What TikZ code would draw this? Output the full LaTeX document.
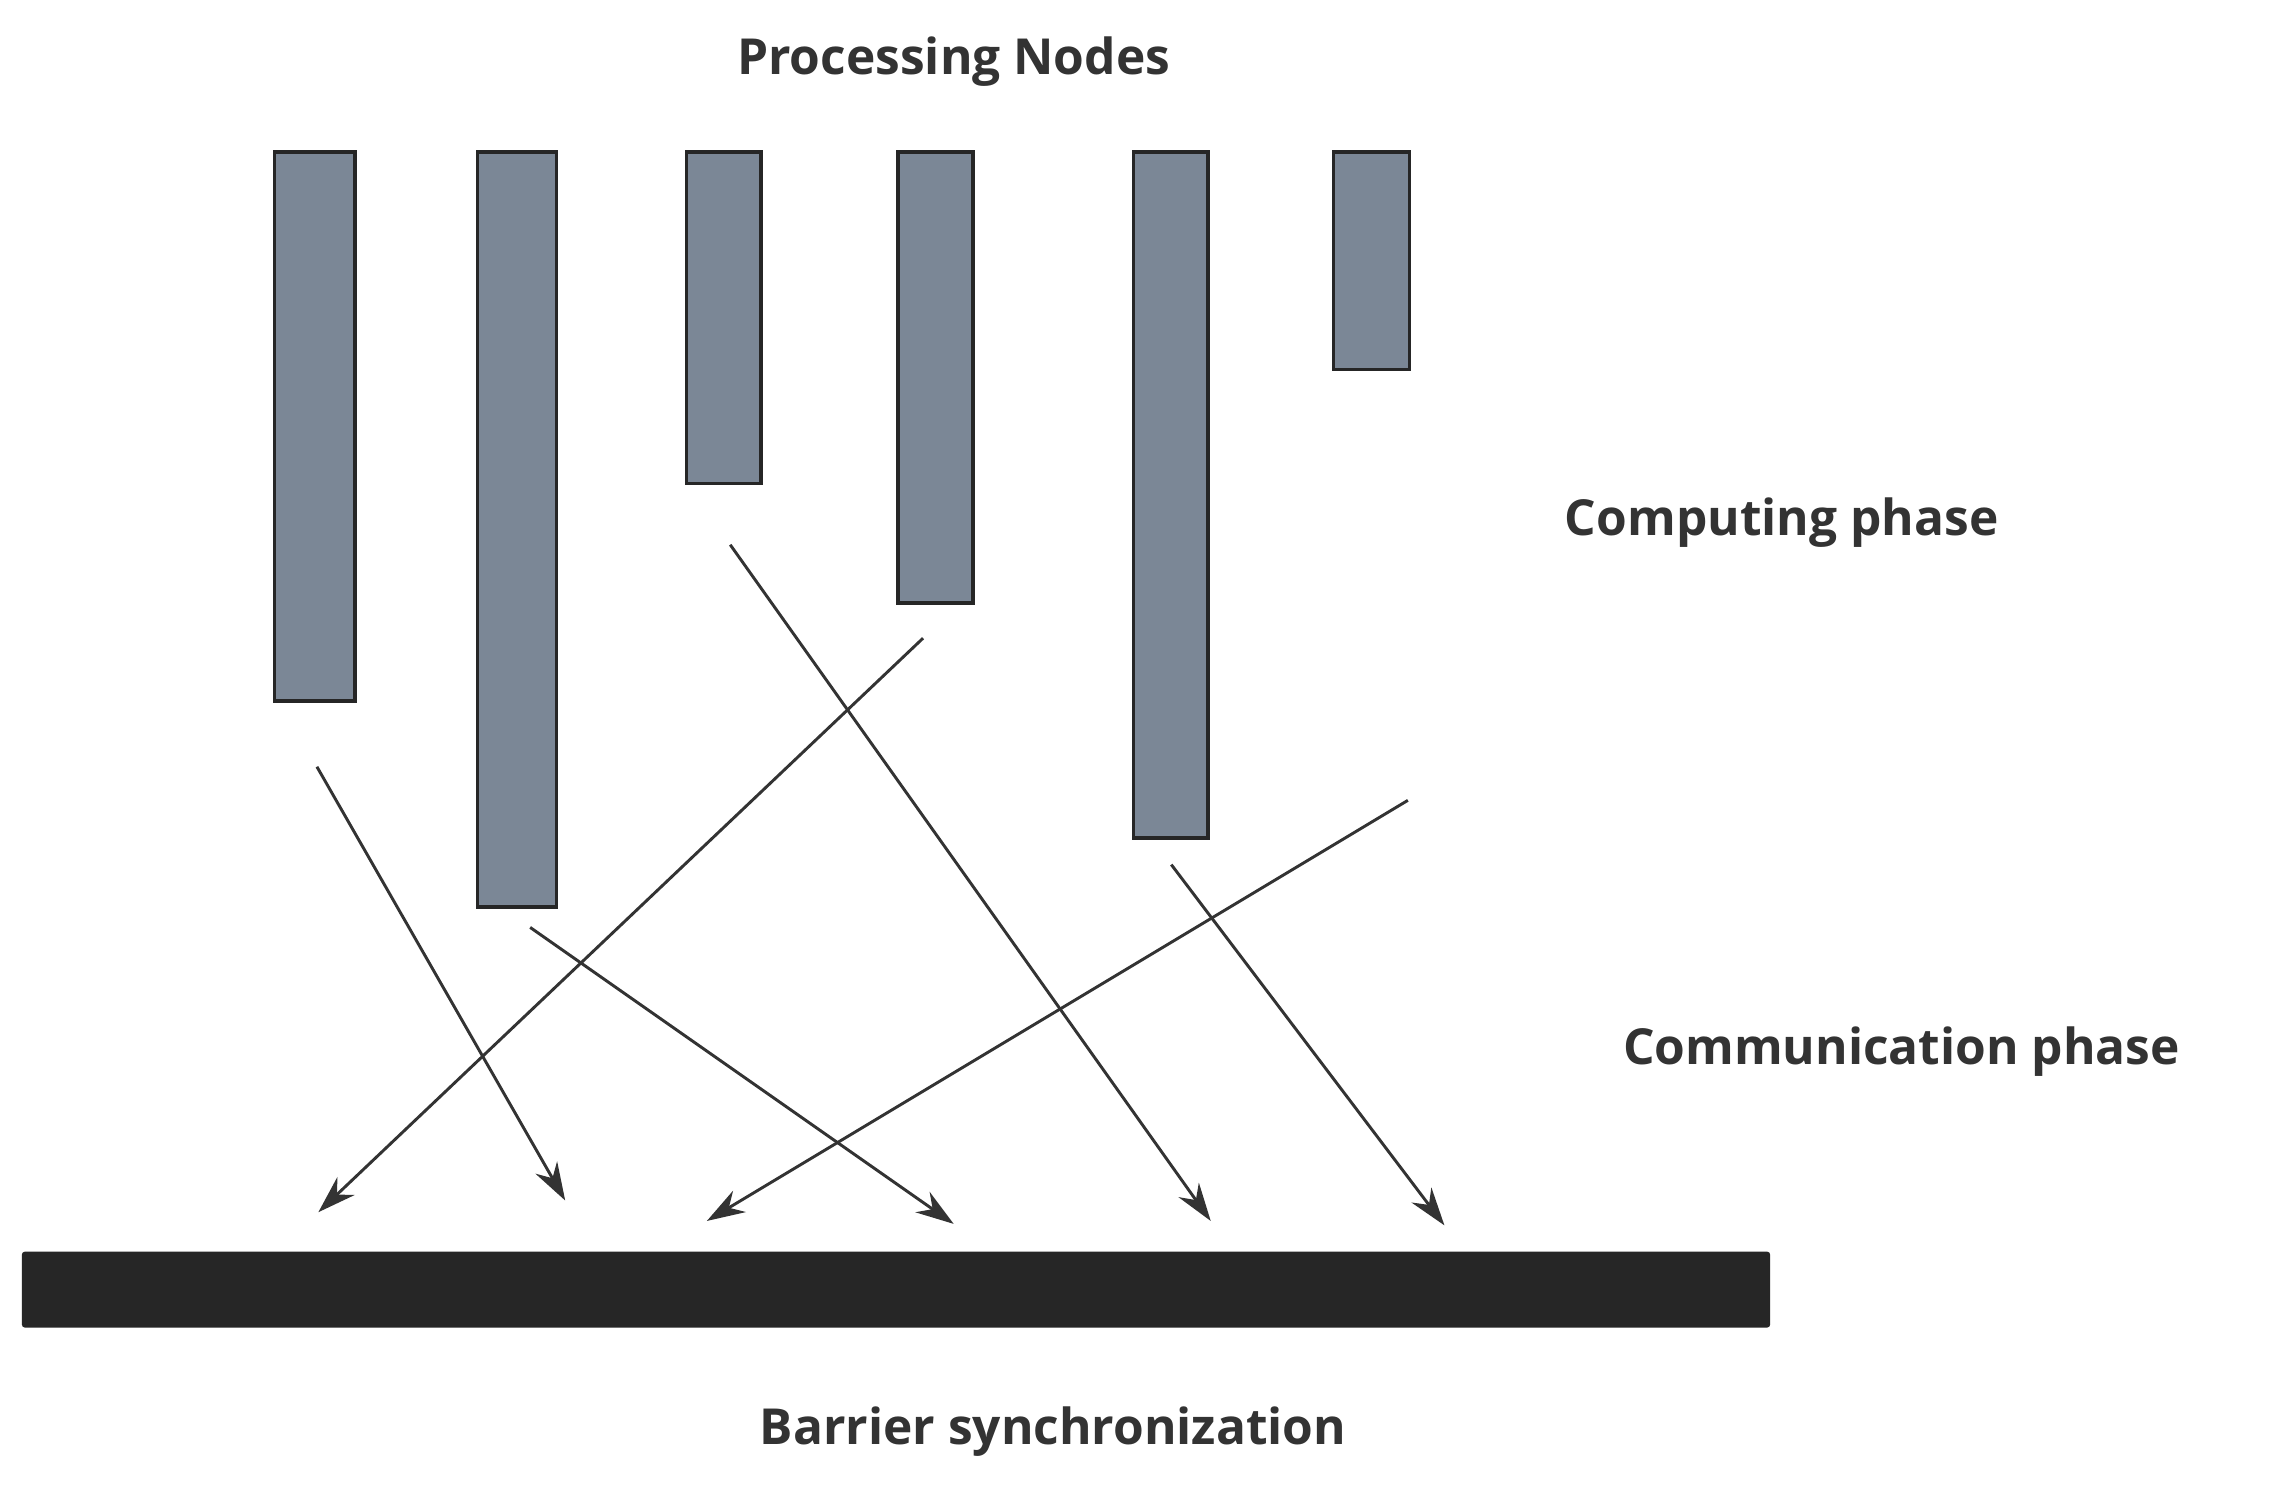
\documentclass[tikz,border=0pt]{standalone}
\usepackage{fontspec}
\setmainfont{Open Sans}
\usetikzlibrary{arrows.meta}
\definecolor{bar}{HTML}{7B8796}
\definecolor{txt}{HTML}{333333}
\begin{document}
\begin{tikzpicture}[x=1pt,y=-1pt,
  pn/.style={draw=black!85,line width=2.5pt,fill=bar},
  arr/.style={draw=black!80,line width=2pt,-{Stealth[length=26pt,width=17pt]}},
  lbl/.style={text=txt,font=\fontsize{34}{40}\selectfont\bfseries}]
\useasboundingbox (0,0) rectangle (1568,1022);
\fill[white] (0,0) rectangle (1568,1022);
\draw[pn] (188,104) rectangle (243,480);
\draw[pn] (327,104) rectangle (381,621);
\draw[pn] (470,104) rectangle (521,331);
\draw[pn] (615,104) rectangle (666,413);
\draw[pn] (776,104) rectangle (827,574);
\draw[pn] (913,104) rectangle (965,253);
\fill[black!85,rounded corners=2pt] (15,857) rectangle (1212,909);
\coordinate (a1) at (217,525); \coordinate (a2) at (387,822);
\coordinate (b1) at (632,437); \coordinate (b2) at (218,830);
\coordinate (c1) at (363,635); \coordinate (c2) at (653,838);
\coordinate (d1) at (500,373); \coordinate (d2) at (829,836);
\coordinate (e1) at (964,548); \coordinate (e2) at (484,836);
\coordinate (f1) at (802,592); \coordinate (f2) at (989,839);
\foreach \p in {a,b,c,d,e,f}{\draw[arr] (\p1) -- (\p2);}
\node[lbl] (t1) at (653,42) {Processing Nodes};
\node[lbl] (t2) at (1220,358) {Computing phase};
\node[lbl] (t3) at (1302,720) {Communication phase};
\node[lbl] (t4) at (721,980) {Barrier synchronization};
\end{tikzpicture}
\end{document}
